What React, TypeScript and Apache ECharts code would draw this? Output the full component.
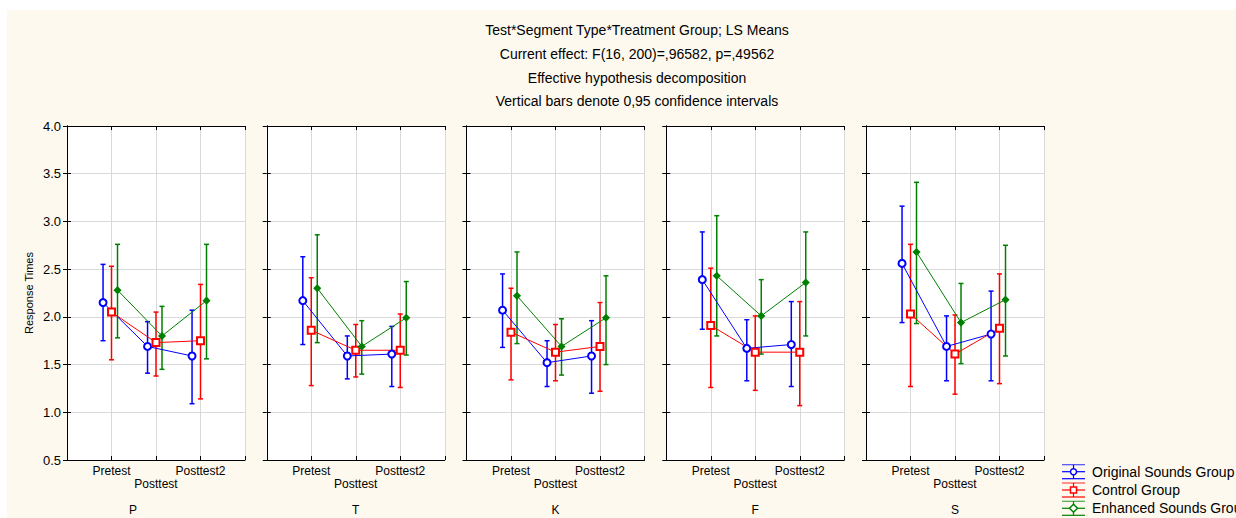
import React, { useEffect, useRef } from "react";
import * as echarts from "echarts";

const titleLines = [
  "Test*Segment Type*Treatment Group; LS Means",
  "Current effect: F(16, 200)=,96582, p=,49562",
  "Effective hypothesis decomposition",
  "Vertical bars denote 0,95 confidence intervals",
];
const segments = ["P", "T", "K", "F", "S"];
const tests = ["Pretest", "Posttest", "Posttest2"];
const yTicks = { min: 0.5, max: 4.0, step: 0.5 };
const yAxisTitle = "Response Times";

const groupNames = ["Original Sounds Group", "Control Group", "Enhanced Sounds Group"];
const groupColors = ["#0000ff", "#ff0000", "#008000"];

// per segment (P,T,K,F,S) -> per test (Pretest, Posttest, Posttest2)
const originalMean = [[2.15, 1.69, 1.59], [2.17, 1.59, 1.61], [2.07, 1.52, 1.59], [2.39, 1.67, 1.71], [2.56, 1.69, 1.82]];
const originalLow = [[1.75, 1.41, 1.09], [1.71, 1.35, 1.27], [1.68, 1.27, 1.2], [1.87, 1.33, 1.27], [1.94, 1.33, 1.33]];
const originalHigh = [[2.55, 1.95, 2.07], [2.63, 1.8, 1.9], [2.45, 1.75, 1.96], [2.89, 1.97, 2.16], [3.16, 2.01, 2.27]];

const controlMean = [[2.05, 1.73, 1.75], [1.86, 1.65, 1.65], [1.84, 1.63, 1.69], [1.91, 1.63, 1.63], [2.03, 1.61, 1.88]];
const controlLow = [[1.55, 1.38, 1.14], [1.28, 1.37, 1.26], [1.34, 1.33, 1.22], [1.26, 1.23, 1.07], [1.27, 1.19, 1.3]];
const controlHigh = [[2.53, 2.05, 2.34], [2.41, 1.92, 2.03], [2.3, 1.92, 2.15], [2.51, 2.01, 2.16], [2.76, 2.02, 2.45]];

const enhancedMean = [[2.28, 1.8, 2.17], [2.3, 1.69, 1.99], [2.22, 1.69, 1.99], [2.43, 2.01, 2.36], [2.68, 1.94, 2.18]];
const enhancedLow = [[1.78, 1.45, 1.56], [1.73, 1.4, 1.6], [1.72, 1.39, 1.5], [1.8, 1.61, 1.8], [1.93, 1.51, 1.59]];
const enhancedHigh = [[2.76, 2.11, 2.76], [2.86, 1.96, 2.37], [2.68, 1.98, 2.43], [3.06, 2.39, 2.89], [3.41, 2.35, 2.75]];

const FONT = "'Liberation Sans', Arial, sans-serif";

export default function App() {
  const ref = useRef<HTMLDivElement>(null);
  useEffect(() => {
    if (!ref.current) return;
    const chart = echarts.init(ref.current, undefined, { renderer: "svg" });
    const means = [originalMean, controlMean, enhancedMean];
    const lows = [originalLow, controlLow, enhancedLow];
    const highs = [originalHigh, controlHigh, enhancedHigh];
    const offsets = [-0.19, 0, 0.135];
    const symbols = ["emptyCircle", "emptyRect", "diamond"];
    const symbolSizes = [7, 7, 6];

    const grids: any[] = [];
    const xAxes: any[] = [];
    const yAxes: any[] = [];
    const series: any[] = [];
    const graphics: any[] = [];

    const axisLine = { show: true, lineStyle: { color: "#000", width: 1 } };
    const axisTick = { show: true, inside: true, length: 4, lineStyle: { color: "#000" } };

    segments.forEach((seg, i) => {
      const left = 60 + i * 199.75;
      grids.push({ left, top: 116, width: 178, height: 334, show: true, backgroundColor: "#ffffff", borderWidth: 0 });
      xAxes.push({
        type: "value", gridIndex: i, min: 0, max: tests.length + 1, interval: 1, position: "bottom",
        axisLine, axisTick,
        splitLine: { show: true, lineStyle: { color: "#d9d9d9", width: 1 } },
        axisLabel: {
          show: true, margin: 5, color: "#000", fontSize: 12, fontFamily: FONT, lineHeight: 12.5,
          formatter: (v: number) => {
            const k = Math.round(v) - 1;
            if (k < 0 || k >= tests.length) return "";
            return k % 2 === 1 ? "\n" + tests[k] : tests[k];
          },
        },
      });
      xAxes.push({
        type: "value", gridIndex: i, min: 0, max: tests.length + 1, interval: 1, position: "top",
        axisLine, axisTick, splitLine: { show: false }, axisLabel: { show: false },
      });
      yAxes.push({
        type: "value", gridIndex: i, min: yTicks.min, max: yTicks.max, interval: yTicks.step, position: "left",
        axisLine, axisTick,
        splitLine: { show: true, lineStyle: { color: "#d9d9d9", width: 1 } },
        axisLabel: {
          show: i === 0, margin: 6, color: "#000", fontSize: 13, fontFamily: FONT,
          formatter: (v: number) => v.toFixed(1),
        },
        name: i === 0 ? yAxisTitle : "",
        nameLocation: "middle",
        nameGap: 33,
        nameTextStyle: { color: "#000", fontSize: 11, fontFamily: FONT },
      });
      yAxes.push({
        type: "value", gridIndex: i, min: yTicks.min, max: yTicks.max, interval: yTicks.step, position: "right",
        axisLine, axisTick, splitLine: { show: false }, axisLabel: { show: false },
      });

      groupNames.forEach((g, gi) => {
        const color = groupColors[gi];
        const off = offsets[gi];
        series.push({
          type: "custom",
          name: g,
          xAxisIndex: 2 * i,
          yAxisIndex: 2 * i,
          z: 2,
          silent: true,
          encode: { x: 0, y: [1, 2] },
          data: tests.map((_, t) => [t + 1 + off, lows[gi][i][t], highs[gi][i][t]]),
          renderItem: (params: any, api: any) => {
            const x = api.value(0);
            const top = api.coord([x, api.value(2)]);
            const bot = api.coord([x, api.value(1)]);
            const w = 2.5;
            const style = { stroke: color, lineWidth: 1.5, fill: "none" };
            return {
              type: "group",
              children: [
                { type: "line", shape: { x1: top[0], y1: top[1], x2: bot[0], y2: bot[1] }, style },
                { type: "line", shape: { x1: top[0] - w, y1: top[1], x2: top[0] + w, y2: top[1] }, style },
                { type: "line", shape: { x1: bot[0] - w, y1: bot[1], x2: bot[0] + w, y2: bot[1] }, style },
              ],
            };
          },
        });
        series.push({
          type: "line",
          name: g,
          xAxisIndex: 2 * i,
          yAxisIndex: 2 * i,
          z: 3,
          symbol: symbols[gi],
          symbolSize: symbolSizes[gi],
          showSymbol: true,
          lineStyle: { color, width: 1 },
          itemStyle: { color, borderColor: color, borderWidth: 1.5 },
          data: tests.map((_, t) => [t + 1 + off, means[gi][i][t]]),
        });
      });

      graphics.push({
        type: "text",
        x: i === 0 ? 126 : left + 89,
        y: 500,
        style: { text: seg, fill: "#000", fontSize: 12, fontFamily: FONT, textAlign: "center", textVerticalAlign: "middle" },
      });
    });

    titleLines.forEach((line, k) => {
      graphics.push({
        type: "text",
        x: 630,
        y: [20, 44, 68, 91][k],
        style: { text: line, fill: "#000", fontSize: 14, fontFamily: FONT, textAlign: "center", textVerticalAlign: "middle" },
      });
    });

    // legend
    const legendRows = [461.7, 480, 498.3];
    groupNames.forEach((g, gi) => {
      const color = groupColors[gi];
      const cy = legendRows[gi];
      const x0 = 1055, x1 = 1078, xc = 1066.5;
      const st = { stroke: color, lineWidth: 1.2 };
      graphics.push({ type: "line", shape: { x1: x0, y1: cy - 7, x2: x1, y2: cy - 7 }, style: { ...st, opacity: 0.7 } });
      graphics.push({ type: "line", shape: { x1: x0, y1: cy + 7, x2: x1, y2: cy + 7 }, style: { ...st } });
      graphics.push({ type: "line", shape: { x1: x0, y1: cy, x2: x1, y2: cy }, style: st });
      graphics.push({ type: "line", shape: { x1: xc, y1: cy - 7, x2: xc, y2: cy + 7 }, style: st });
      if (gi === 0) {
        graphics.push({ type: "circle", shape: { cx: xc, cy, r: 3 }, style: { fill: "#fff", stroke: color, lineWidth: 1.5 } });
      } else if (gi === 1) {
        graphics.push({ type: "rect", shape: { x: xc - 3, y: cy - 3, width: 6, height: 6 }, style: { fill: "#fff", stroke: color, lineWidth: 1.5 } });
      } else {
        graphics.push({ type: "polygon", shape: { points: [[xc, cy - 4], [xc + 4, cy], [xc, cy + 4], [xc - 4, cy]] }, style: { fill: "#fff", stroke: color, lineWidth: 1.5 } });
      }
      graphics.push({
        type: "text", x: 1085, y: cy,
        style: { text: g, fill: "#000", fontSize: 14, fontFamily: FONT, textAlign: "left", textVerticalAlign: "middle" },
      });
    });

    chart.setOption({
      animation: false,
      backgroundColor: "#fef9ef",
      grid: grids,
      xAxis: xAxes,
      yAxis: yAxes,
      series,
      graphic: graphics,
    });
    return () => chart.dispose();
  }, []);
  return (
    <div
      ref={ref}
      style={{ position: "fixed", left: 7, top: 10, width: 1229, height: 508 }}
    />
  );
}
